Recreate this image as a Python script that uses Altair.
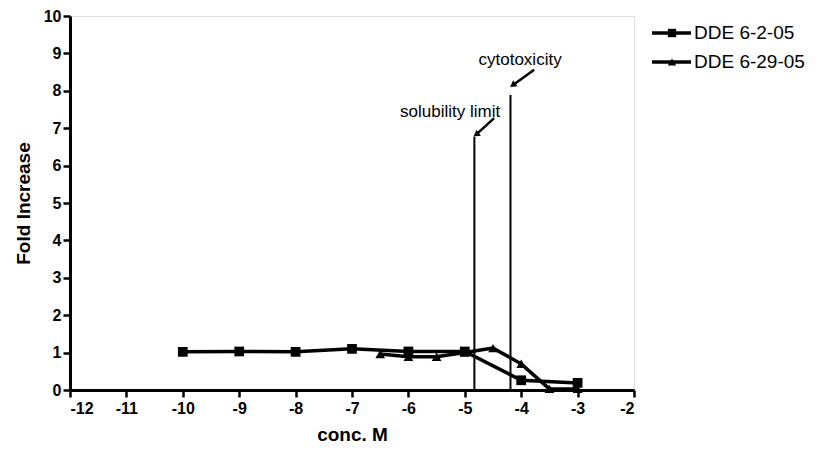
import altair as alt
import pandas as pd

# Data
s1_name = "DDE 6-2-05"
s1_x = [-10, -9, -8, -7, -6, -5, -4, -3]
s1_y = [1.02, 1.03, 1.02, 1.10, 1.03, 1.03, 0.26, 0.19]

s2_name = "DDE 6-29-05"
s2_x = [-6.5, -6, -5.5, -5, -4.5, -4, -3.5, -3]
s2_y = [0.96, 0.89, 0.89, 1.00, 1.12, 0.70, 0.03, 0.03]

y_ticks = [0, 1, 2, 3, 4, 5, 6, 7, 8, 9, 10]
x_ticks = [-12, -11, -10, -9, -8, -7, -6, -5, -4, -3, -2]

vlines_x = [-4.83, -4.19]
vlines_top = [6.77, 7.89]

ann_text = ["solubility limit", "cytotoxicity"]
ann_tx = [-5.26, -4.02]
ann_ty = [7.43, 8.82]
arrow_x0 = [-4.48, -3.77]
arrow_y0 = [7.27, 8.56]
arrow_x1 = [-4.80, -4.15]
arrow_y1 = [6.83, 8.15]
arrow_angle = [234, 234]

FONT = "Liberation Sans"
W, H = 564, 374

df = pd.DataFrame({
    "x": s1_x + s2_x,
    "y": s1_y + s2_y,
    "series": [s1_name] * len(s1_x) + [s2_name] * len(s2_x),
})

xs = alt.Scale(domain=[-12, -2], nice=False, zero=False)
ys = alt.Scale(domain=[0, 10], nice=False)

common = dict(grid=False, domainColor="black", domainWidth=3, tickColor="black",
              tickWidth=2.5, tickSize=7, labelFont=FONT, labelFontSize=16,
              labelFontWeight="bold", labelColor="black", titleFont=FONT,
              titleFontSize=19, titleFontWeight="bold", titleColor="black",
              labelOverlap=False)
xaxis = alt.Axis(values=x_ticks, labelExpr="toString(datum.value)",
                 labelPadding=3, titlePadding=9, **common)
yaxis = alt.Axis(values=y_ticks, labelPadding=2, titlePadding=10, **common)


def X(f):
    return alt.X(f, scale=xs, title="conc. M", axis=xaxis)


def Y(f):
    return alt.Y(f, scale=ys, title="Fold Increase", axis=yaxis)


lines = alt.Chart(df).mark_line(color="black", strokeWidth=3.5).encode(
    x=X("x:Q"), y=Y("y:Q"), detail="series:N")
points = alt.Chart(df).mark_point(filled=True, color="black", opacity=1, size=95).encode(
    x=X("x:Q"), y=Y("y:Q"),
    shape=alt.Shape("series:N", scale=alt.Scale(domain=[s1_name, s2_name],
                                                 range=["square", "triangle-up"]),
                    legend=None))

vdf = pd.DataFrame({"x": vlines_x, "y0": [0, 0], "y1": vlines_top})
vl = alt.Chart(vdf).mark_rule(color="black", strokeWidth=2).encode(
    x=X("x:Q"), y=Y("y0:Q"), y2="y1:Q")

adf = pd.DataFrame({"text": ann_text, "x": ann_tx, "y": ann_ty,
                    "x0": arrow_x0, "y0": arrow_y0, "x1": arrow_x1, "y1": arrow_y1,
                    "angle": arrow_angle})
atext = alt.Chart(adf).mark_text(font=FONT, fontSize=17, color="black").encode(
    x=X("x:Q"), y=Y("y:Q"), text="text:N")
ashaft = alt.Chart(adf).mark_rule(color="black", strokeWidth=2.5).encode(
    x=X("x0:Q"), y=Y("y0:Q"), x2="x1:Q", y2="y1:Q")
ahead = alt.Chart(adf).mark_point(shape="triangle-up", filled=True, color="black",
                                  opacity=1, size=55).encode(
    x=X("x1:Q"), y=Y("y1:Q"), angle=alt.Angle("angle:Q", scale=None))

layers = [lines, points, vl, ashaft, ahead, atext]

# manual legend
leg_names = [s1_name, s2_name]
leg_shapes = ["square", "triangle-up"]
leg_y = [17, 46]
for name, shp, ly in zip(leg_names, leg_shapes, leg_y):
    ldf = pd.DataFrame({"label": [name]})
    base = alt.Chart(ldf)
    layers.append(base.mark_rule(color="black", strokeWidth=3.5).encode(
        x=alt.value(W + 18), x2=alt.value(W + 57), y=alt.value(ly)))
    layers.append(base.mark_point(shape=shp, filled=True, color="black", opacity=1,
                                  size=70).encode(x=alt.value(W + 38), y=alt.value(ly)))
    layers.append(base.mark_text(font=FONT, fontSize=19, color="black", align="left",
                                 baseline="middle").encode(
        x=alt.value(W + 60), y=alt.value(ly), text="label:N"))

chart = alt.layer(*layers).properties(
    width=W, height=H,
    autosize=alt.AutoSizeParams(type="none"),
    padding={"left": 62, "top": 8, "right": 184, "bottom": 54},
).configure_view(stroke=None).configure(background="white")

chart.save("out.html", embed_options={"renderer": "svg", "actions": False})
